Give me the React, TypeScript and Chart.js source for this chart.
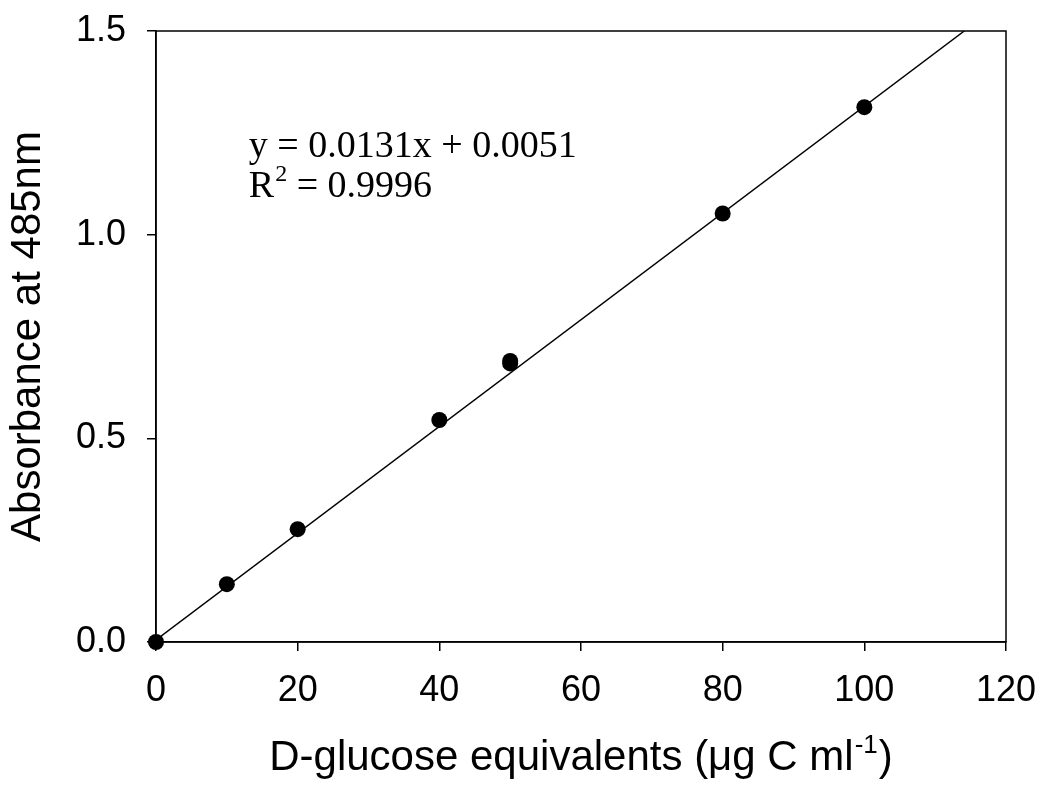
import React, { useEffect, useRef } from "react";
import { Chart, registerables } from "chart.js";

Chart.register(...registerables);

// ---- data ----
const glucoseEquivalents = [0, 10, 20, 40, 50, 50, 80, 100];
const absorbance = [0.0, 0.142, 0.277, 0.545, 0.69, 0.684, 1.052, 1.313];
const xTickValues = [0, 20, 40, 60, 80, 100, 120];
const yTickValues = [0, 0.5, 1.0, 1.5];
const fitSlope = 0.0131;
const fitIntercept = 0.0051;
const equationText = "y = 0.0131x + 0.0051";
const r2Label = "R";
const r2Sup = "2";
const r2Value = " = 0.9996";
const equationAnchor = { x: 13.1, y1: 1.191, y2: 1.093 };
const xTitleMain = "D-glucose equivalents (\u03BCg C ml";
const xTitleSup = "-1";
const xTitleEnd = ")";
const yTitle = "Absorbance at 485nm";

const X_MIN = 0;
const X_MAX = 120;
const Y_MIN = 0;
const Y_MAX = 1.5;

const fitEndX = (Y_MAX - fitIntercept) / fitSlope;
const fitLinePoints = [
  { x: 0, y: fitIntercept },
  { x: fitEndX, y: fitSlope * fitEndX + fitIntercept },
];

const framePlugin = {
  id: "frame",
  beforeDatasetsDraw(chart: any) {
    const { ctx, chartArea } = chart;
    ctx.save();
    ctx.strokeStyle = "#000";
    ctx.lineWidth = 1.5;
    ctx.strokeRect(chartArea.left, chartArea.top, chartArea.right - chartArea.left, chartArea.bottom - chartArea.top);
    ctx.restore();
  },
};

const textPlugin = {
  id: "texts",
  afterDraw(chart: any) {
    const { ctx, scales, chartArea } = chart;
    const xs = scales.x;
    const ys = scales.y;
    ctx.save();
    ctx.fillStyle = "#000";
    ctx.textBaseline = "alphabetic";
    ctx.textAlign = "left";
    // equation
    const ex = xs.getPixelForValue(equationAnchor.x);
    const ey1 = ys.getPixelForValue(equationAnchor.y1);
    const ey2 = ys.getPixelForValue(equationAnchor.y2);
    ctx.font = "38px 'Liberation Serif', 'Times New Roman', serif";
    ctx.fillText(equationText, ex, ey1);
    ctx.fillText(r2Label, ex, ey2);
    const rw = ctx.measureText(r2Label).width;
    ctx.font = "24px 'Liberation Serif', 'Times New Roman', serif";
    ctx.fillText(r2Sup, ex + rw + 1, ey2 - 16);
    const sw = ctx.measureText(r2Sup).width;
    ctx.font = "38px 'Liberation Serif', 'Times New Roman', serif";
    ctx.fillText(r2Value, ex + rw + sw + 1, ey2);

    // x title with superscript
    const mainFont = "42px 'Liberation Sans', Arial, sans-serif";
    const supFont = "26px 'Liberation Sans', Arial, sans-serif";
    ctx.font = mainFont;
    const w1 = ctx.measureText(xTitleMain).width;
    const w3 = ctx.measureText(xTitleEnd).width;
    ctx.font = supFont;
    const w2 = ctx.measureText(xTitleSup).width;
    const total = w1 + w2 + w3 + 2;
    const cx = (chartArea.left + chartArea.right) / 2;
    const baseY = xs.bottom - 19;
    let px = cx - total / 2;
    ctx.font = mainFont;
    ctx.fillText(xTitleMain, px, baseY);
    px += w1 + 1;
    ctx.font = supFont;
    ctx.fillText(xTitleSup, px, baseY - 17);
    px += w2 + 1;
    ctx.font = mainFont;
    ctx.fillText(xTitleEnd, px, baseY);
    ctx.restore();
  },
};

function zeroPadding(scale: any) {
  scale.paddingTop = 0;
  scale.paddingBottom = 0;
  scale.paddingLeft = 0;
  scale.paddingRight = 0;
}

export default function App() {
  const canvasRef = useRef<HTMLCanvasElement | null>(null);

  useEffect(() => {
    if (!canvasRef.current) return;
    const chart = new Chart(canvasRef.current, {
      type: "scatter",
      data: {
        datasets: [
          {
            label: "fit",
            data: fitLinePoints,
            showLine: true,
            borderColor: "#000",
            borderWidth: 1.5,
            pointRadius: 0,
            fill: false,
            order: 2,
          },
          {
            label: "samples",
            data: glucoseEquivalents.map((x, i) => ({ x, y: absorbance[i] })),
            backgroundColor: "#000",
            borderColor: "#000",
            pointRadius: 8,
            pointBorderWidth: 0,
            showLine: false,
            clip: false,
            order: 1,
          },
        ],
      },
      options: {
        responsive: false,
        animation: false,
        layout: { padding: { top: 31, right: 34, left: 0, bottom: 0 } },
        plugins: {
          legend: { display: false },
          tooltip: { enabled: false },
        },
        scales: {
          x: {
            type: "linear",
            min: X_MIN,
            max: X_MAX,
            afterBuildTicks(scale: any) {
              scale.ticks = xTickValues.map((v) => ({ value: v }));
            },
            afterFit(scale: any) {
              scale.height = 147;
              zeroPadding(scale);
            },
            grid: {
              drawOnChartArea: false,
              drawTicks: true,
              tickLength: 9,
              color: "#000",
              lineWidth: 1.5,
            },
            border: { display: true, color: "#000", width: 1.5 },
            ticks: {
              color: "#000",
              padding: 18,
              font: { family: "'Liberation Sans', Arial, sans-serif", size: 36 },
              callback: (v: any) => String(v),
            },
          },
          y: {
            type: "linear",
            min: Y_MIN,
            max: Y_MAX,
            afterBuildTicks(scale: any) {
              scale.ticks = yTickValues.map((v) => ({ value: v }));
            },
            afterFit(scale: any) {
              scale.width = 156;
              zeroPadding(scale);
            },
            grid: {
              drawOnChartArea: false,
              drawTicks: true,
              tickLength: 9,
              color: "#000",
              lineWidth: 1.5,
            },
            border: { display: true, color: "#000", width: 1.5 },
            ticks: {
              color: "#000",
              padding: 21,
              font: { family: "'Liberation Sans', Arial, sans-serif", size: 36 },
              callback: (v: any) => Number(v).toFixed(1),
            },
            title: {
              display: true,
              text: yTitle,
              color: "#000",
              font: { family: "'Liberation Sans', Arial, sans-serif", size: 42, lineHeight: 1.2 },
              padding: { top: 3, bottom: 0 },
            },
          },
        },
      },
      plugins: [framePlugin, textPlugin],
    });
    return () => chart.destroy();
  }, []);

  return (
    <div style={{ position: "absolute", left: 0, top: 0, width: 1040, height: 789, background: "#fff" }}>
      <canvas ref={canvasRef} width={1040} height={789} />
    </div>
  );
}
